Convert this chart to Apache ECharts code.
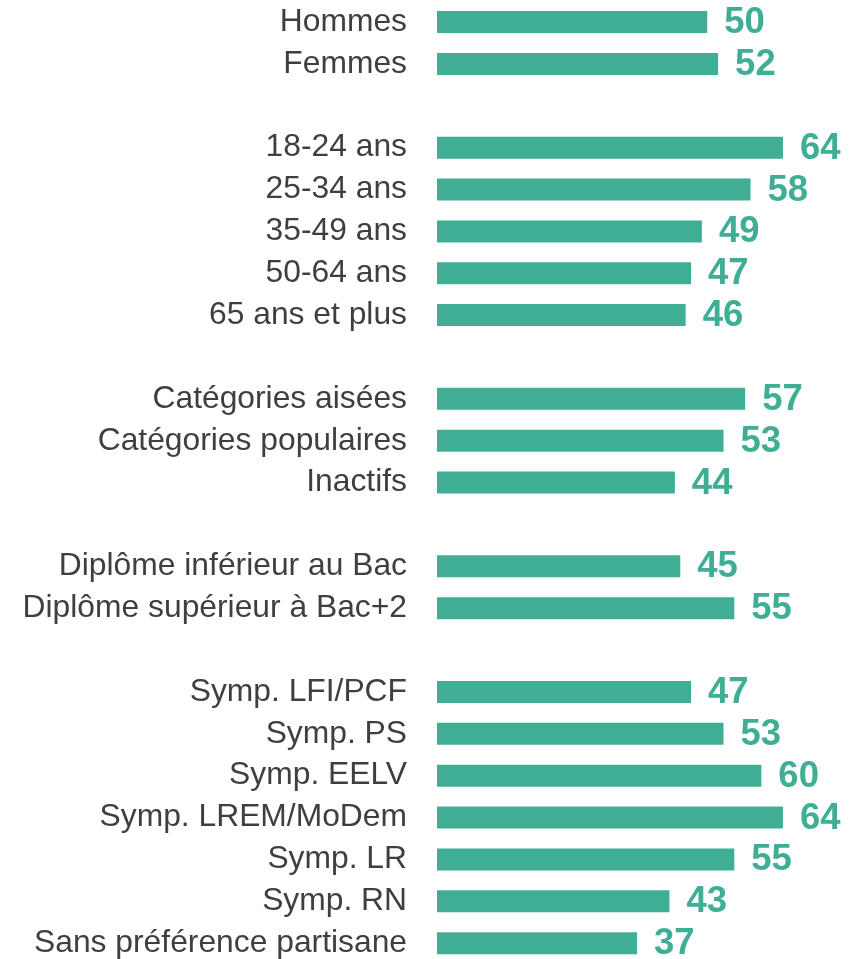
<!DOCTYPE html>
<html>
<head>
<meta charset="utf-8">
<script src="https://cdn.jsdelivr.net/npm/echarts@6/dist/echarts.min.js"></script>
<style>
html,body{margin:0;padding:0;background:#fff;}
#chart{width:856px;height:959px;}
</style>
</head>
<body>
<div id="chart"></div>
<script>
var categories = [
  'Hommes', 'Femmes', ' ',
  '18-24 ans', '25-34 ans', '35-49 ans', '50-64 ans', '65 ans et plus', '  ',
  'Catégories aisées', 'Catégories populaires', 'Inactifs', '   ',
  'Diplôme inférieur au Bac', 'Diplôme supérieur à Bac+2', '    ',
  'Symp. LFI/PCF', 'Symp. PS', 'Symp. EELV', 'Symp. LREM/MoDem', 'Symp. LR', 'Symp. RN', 'Sans préférence partisane'
];
var values = [
  50, 52, null,
  64, 58, 49, 47, 46, null,
  57, 53, 44, null,
  45, 55, null,
  47, 53, 60, 64, 55, 43, 37
];

var chart = echarts.init(document.getElementById('chart'), null, {renderer: 'canvas'});
var FONT = '"Liberation Sans", Arial, Helvetica, sans-serif';
chart.setOption({
  animation: false,
  backgroundColor: '#ffffff',
  grid: {left: 437, width: 378.4, top: 1.1, height: 963, containLabel: false, outerBoundsMode: 'none'},
  xAxis: {
    type: 'value', min: 0, max: 70, show: false,
    splitLine: {show: false}
  },
  yAxis: {
    type: 'category', data: categories, inverse: true,
    axisLine: {show: false}, axisTick: {show: false}, splitLine: {show: false},
    axisLabel: {
      interval: 0, margin: 30, color: '#3f3f3f', fontSize: 31.8, fontFamily: FONT
    }
  },
  series: [{
    type: 'bar',
    data: values,
    barWidth: 22,
    itemStyle: {color: '#40AE95'},
    label: {
      show: true, position: 'right', distance: 17, offset: [0, 1],
      color: '#40AE95', fontSize: 36.5, fontWeight: 'bold', fontFamily: FONT,
      formatter: function (p) { return p.value == null ? '' : p.value; }
    }
  }]
});
</script>
</body>
</html>
